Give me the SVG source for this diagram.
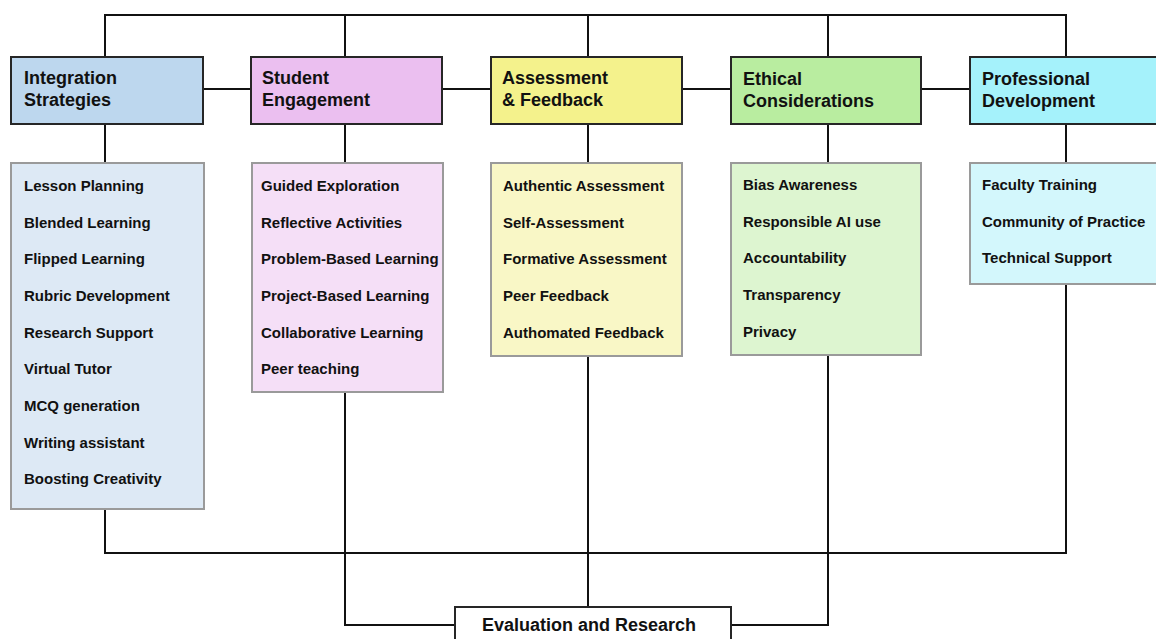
<svg xmlns="http://www.w3.org/2000/svg" width="1156" height="639" viewBox="0 0 1156 639">
  <style>
    .hdr { stroke: #262626; stroke-width: 2; }
    .det { stroke: #9a9a9a; stroke-width: 2; }
    .wire { fill: none; stroke: #111; stroke-width: 2; }
    .ht { font-family: "Liberation Sans", Arial, sans-serif; font-weight: bold; font-size: 18px; fill: #111; }
    .it { font-family: "Liberation Sans", Arial, sans-serif; font-weight: bold; font-size: 15px; fill: #111; }
  </style>
  <rect width="1156" height="639" fill="#fff"/>

  <g id="connectors">
    <!-- top bus -->
    <polyline class="wire" points="105,57 105,15 1066,15 1066,57"/>
    <line class="wire" x1="345" y1="15" x2="345" y2="57"/>
    <line class="wire" x1="588" y1="15" x2="588" y2="57"/>
    <line class="wire" x1="828" y1="15" x2="828" y2="57"/>
    <!-- header links -->
    <line class="wire" x1="203" y1="89" x2="251" y2="89"/>
    <line class="wire" x1="442" y1="89" x2="491" y2="89"/>
    <line class="wire" x1="682" y1="89" x2="731" y2="89"/>
    <line class="wire" x1="921" y1="89" x2="970" y2="89"/>
    <!-- header to detail -->
    <line class="wire" x1="105" y1="124" x2="105" y2="163"/>
    <line class="wire" x1="345" y1="124" x2="345" y2="163"/>
    <line class="wire" x1="588" y1="124" x2="588" y2="163"/>
    <line class="wire" x1="828" y1="124" x2="828" y2="163"/>
    <line class="wire" x1="1066" y1="124" x2="1066" y2="163"/>
    <!-- bottom bus -->
    <polyline class="wire" points="105,509 105,553 1066,553 1066,284"/>
    <!-- to evaluation -->
    <polyline class="wire" points="345,392 345,625 455,625"/>
    <line class="wire" x1="588" y1="356" x2="588" y2="607"/>
    <polyline class="wire" points="828,355 828,625 731,625"/>
  </g>

  <g id="integration">
    <rect class="hdr" x="11" y="57" width="192" height="67" fill="#bdd7ee"/>
    <text class="ht" x="24" y="84">Integration</text>
    <text class="ht" x="24" y="106">Strategies</text>
  </g>
  <g id="integration-items">
    <rect class="det" x="11" y="163" width="193" height="346" fill="#dde9f5"/>
    <text class="it" x="24" y="191">Lesson Planning</text>
    <text class="it" x="24" y="227.7">Blended Learning</text>
    <text class="it" x="24" y="264.3">Flipped Learning</text>
    <text class="it" x="24" y="301">Rubric Development</text>
    <text class="it" x="24" y="337.7">Research Support</text>
    <text class="it" x="24" y="374.3">Virtual Tutor</text>
    <text class="it" x="24" y="411">MCQ generation</text>
    <text class="it" x="24" y="447.7">Writing assistant</text>
    <text class="it" x="24" y="484.3">Boosting Creativity</text>
  </g>

  <g id="engagement">
    <rect class="hdr" x="251" y="57" width="191" height="67" fill="#ebbff0"/>
    <text class="ht" x="262" y="84">Student</text>
    <text class="ht" x="262" y="106">Engagement</text>
  </g>
  <g id="engagement-items">
    <rect class="det" x="252" y="163" width="191" height="229" fill="#f5dff7"/>
    <text class="it" x="261" y="191">Guided Exploration</text>
    <text class="it" x="261" y="227.7">Reflective Activities</text>
    <text class="it" x="261" y="264.3">Problem-Based Learning</text>
    <text class="it" x="261" y="301">Project-Based Learning</text>
    <text class="it" x="261" y="337.7">Collaborative Learning</text>
    <text class="it" x="261" y="374.3">Peer teaching</text>
  </g>

  <g id="assessment">
    <rect class="hdr" x="491" y="57" width="191" height="67" fill="#f4f28c"/>
    <text class="ht" x="502" y="84">Assessment</text>
    <text class="ht" x="502" y="106">&amp; Feedback</text>
  </g>
  <g id="assessment-items">
    <rect class="det" x="491" y="163" width="191" height="193" fill="#f9f7c6"/>
    <text class="it" x="503" y="191">Authentic Assessment</text>
    <text class="it" x="503" y="227.7">Self-Assessment</text>
    <text class="it" x="503" y="264.3">Formative Assessment</text>
    <text class="it" x="503" y="301">Peer Feedback</text>
    <text class="it" x="503" y="337.7">Authomated Feedback</text>
  </g>

  <g id="ethics">
    <rect class="hdr" x="731" y="57" width="190" height="67" fill="#b9eda0"/>
    <text class="ht" x="743" y="85">Ethical</text>
    <text class="ht" x="743" y="107">Considerations</text>
  </g>
  <g id="ethics-items">
    <rect class="det" x="731" y="163" width="190" height="192" fill="#ddf5d0"/>
    <text class="it" x="743" y="190">Bias Awareness</text>
    <text class="it" x="743" y="226.7">Responsible AI use</text>
    <text class="it" x="743" y="263.3">Accountability</text>
    <text class="it" x="743" y="300">Transparency</text>
    <text class="it" x="743" y="336.7">Privacy</text>
  </g>

  <g id="professional">
    <rect class="hdr" x="970" y="57" width="200" height="67" fill="#a5f2fb"/>
    <text class="ht" x="982" y="85">Professional</text>
    <text class="ht" x="982" y="107">Development</text>
  </g>
  <g id="professional-items">
    <rect class="det" x="970" y="163" width="200" height="121" fill="#d3f7fc"/>
    <text class="it" x="982" y="190">Faculty Training</text>
    <text class="it" x="982" y="226.7">Community of Practice</text>
    <text class="it" x="982" y="263.3">Technical Support</text>
  </g>

  <g id="evaluation">
    <rect class="hdr" x="455" y="607" width="276" height="50" fill="#fff"/>
    <text class="ht" x="589" y="631" text-anchor="middle">Evaluation and Research</text>
  </g>
</svg>
